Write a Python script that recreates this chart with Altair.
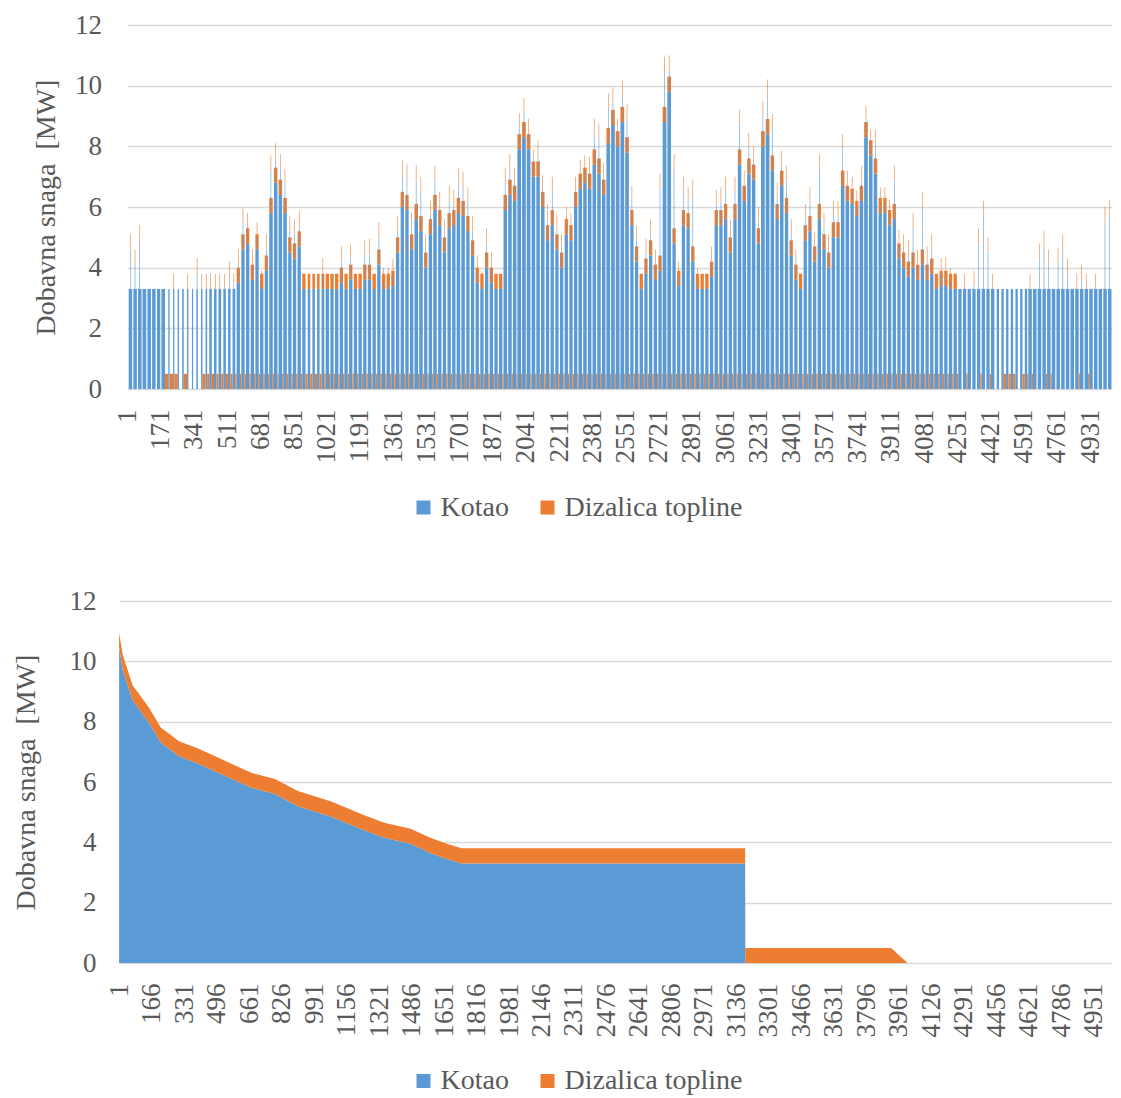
import altair as alt
import pandas as pd

FONT = "Liberation Serif"
SIVA = "#595959"
PLAVA = "#5B9BD5"
NARANCASTA = "#ED7D31"
SERIJE = ["Kotao", "Dizalica topline"]

# ---------------- Gornji graf: po danima (210 dana x 24 h) ----------------
# vršna ukupna snaga u danu [MW]
vrh_snaga = [
    5.1, 4.6, 5.4, 3.3, 3.3, 3.3, 3.3, 3.3, 3.3, 3.8,
    3.3, 3.3, 3.8, 3.3, 4.3, 3.8, 3.8, 3.8, 3.8, 3.8,
    3.8, 4.2, 3.8, 4.6, 6.0, 5.8, 4.6, 5.5, 3.9, 5.1,
    7.7, 8.1, 7.75, 7.25, 5.7, 5.6, 5.9, 3.8, 3.8, 3.8,
    3.8, 4.3, 3.8, 3.8, 3.8, 4.7, 3.8, 4.8, 3.8, 3.8,
    4.9, 4.95, 3.8, 5.5, 4.0, 4.0, 4.3, 5.7, 7.55, 7.4,
    5.8, 7.4, 7.0, 5.1, 6.2, 7.35, 6.5, 5.6, 6.7, 6.55,
    7.3, 7.15, 6.65, 5.7, 4.4, 3.9, 5.3, 4.5, 3.8, 3.8,
    7.3, 7.75, 7.3, 9.1, 9.6, 8.9, 7.9, 8.2, 7.05, 6.1,
    7.0, 5.75, 5.1, 6.0, 5.8, 7.0, 7.55, 7.7, 7.65, 8.9,
    8.75, 7.45, 9.75, 9.95, 8.9, 10.15, 9.4, 6.7, 5.4, 3.8,
    4.95, 5.6, 4.6, 7.1, 10.95, 11.0, 7.75, 4.2, 7.0, 6.65,
    6.9, 4.0, 3.8, 3.8, 4.7, 6.55, 6.65, 7.0, 5.6, 7.0,
    9.2, 7.2, 8.45, 8.0, 6.0, 9.5, 10.2, 9.05, 6.8, 7.85,
    7.35, 5.6, 4.6, 3.8, 6.1, 6.65, 5.2, 7.75, 5.8, 5.1,
    6.2, 6.2, 8.4, 7.2, 7.0, 6.55, 7.35, 9.35, 8.55, 8.55,
    6.65, 6.65, 6.25, 7.35, 5.25, 5.1, 4.9, 5.8, 4.6, 6.5,
    4.7, 5.1, 3.8, 4.3, 4.35, 4.0, 3.8, 3.3, 3.8, 3.3,
    3.9, 5.3, 6.2, 5.0, 3.8, 3.3, 3.3, 3.3, 3.3, 3.3,
    3.3, 3.3, 3.8, 3.3, 4.8, 5.2, 4.6, 3.3, 4.65, 5.1,
    4.3, 3.3, 3.8, 4.1, 3.8, 3.3, 3.8, 3.3, 6.0, 6.25,
]
# tipična snaga kotla u satima rada [MW]
kotao_dan = [
    3.3, 3.3, 3.3, 3.3, 3.3, 3.3, 3.3, 3.3, 3.3, 3.3,
    3.3, 3.3, 3.3, 3.3, 3.3, 3.3, 3.3, 3.3, 3.3, 3.3,
    3.3, 3.3, 3.3, 3.5, 4.6, 4.8, 3.6, 4.6, 3.3, 3.9,
    5.8, 6.8, 6.4, 5.8, 4.5, 4.3, 4.7, 3.3, 3.3, 3.3,
    3.3, 3.3, 3.3, 3.3, 3.3, 3.5, 3.3, 3.6, 3.3, 3.3,
    3.6, 3.6, 3.3, 4.1, 3.3, 3.3, 3.4, 4.5, 6.0, 5.9,
    4.6, 5.6, 5.2, 4.0, 5.1, 5.9, 5.4, 4.5, 5.3, 5.4,
    5.8, 5.7, 5.2, 4.4, 3.5, 3.3, 4.0, 3.5, 3.3, 3.3,
    5.9, 6.4, 6.2, 7.9, 8.3, 7.9, 7.0, 7.0, 6.0, 4.9,
    5.4, 4.6, 4.0, 5.1, 4.9, 6.0, 6.6, 6.8, 6.6, 7.4,
    7.1, 6.4, 8.1, 8.7, 8.0, 8.8, 7.8, 5.4, 4.2, 3.3,
    3.8, 4.4, 3.6, 3.9, 8.8, 9.8, 4.8, 3.4, 5.4, 5.3,
    4.2, 3.3, 3.3, 3.3, 3.7, 5.4, 5.4, 5.6, 4.5, 5.6,
    7.4, 6.2, 7.1, 6.9, 4.8, 8.0, 8.4, 7.2, 5.6, 6.7,
    5.8, 4.4, 3.6, 3.3, 4.9, 5.2, 4.2, 5.6, 4.6, 4.0,
    5.0, 5.0, 6.7, 6.2, 6.1, 5.7, 6.2, 8.3, 7.7, 7.1,
    5.8, 5.8, 5.4, 5.6, 4.3, 4.0, 3.7, 4.0, 3.6, 4.1,
    3.6, 3.8, 3.3, 3.4, 3.4, 3.3, 3.3, 3.3, 3.3, 3.3,
    3.3, 3.3, 3.3, 3.3, 3.3, 3.3, 3.3, 3.3, 3.3, 3.3,
    3.3, 3.3, 3.3, 3.3, 3.3, 3.3, 3.3, 3.3, 3.3, 3.3,
    3.3, 3.3, 3.3, 3.3, 3.3, 3.3, 3.3, 3.3, 3.3, 3.3,
]
# broj sati rada kotla u danu
sati_rada = [
    18, 18, 18, 19, 18, 18, 17, 18, 7, 6,
    7, 8, 7, 6, 7, 7, 8, 13, 13, 14,
    13, 13, 14, 17, 17, 17, 17, 17, 17, 17,
    18, 18, 18, 18, 17, 17, 17, 17, 13, 13,
    13, 14, 17, 17, 17, 17, 17, 17, 17, 17,
    17, 17, 17, 17, 17, 17, 17, 17, 17, 17,
    17, 18, 18, 17, 17, 18, 17, 17, 17, 17,
    18, 18, 17, 17, 17, 17, 17, 17, 17, 17,
    18, 18, 18, 19, 19, 19, 18, 18, 18, 17,
    17, 17, 17, 17, 17, 17, 18, 18, 18, 18,
    18, 18, 19, 19, 19, 19, 19, 17, 17, 17,
    17, 17, 17, 17, 19, 19, 17, 17, 17, 17,
    17, 17, 17, 17, 17, 17, 17, 17, 17, 17,
    18, 18, 18, 18, 17, 19, 19, 18, 17, 18,
    17, 17, 17, 17, 17, 17, 17, 17, 17, 17,
    17, 17, 18, 18, 17, 17, 18, 19, 18, 18,
    17, 17, 17, 17, 17, 17, 17, 17, 17, 17,
    17, 17, 17, 17, 17, 17, 17, 17, 17, 17,
    17, 17, 17, 17, 17, 12, 12, 12, 12, 12,
    12, 12, 18, 18, 18, 18, 18, 18, 18, 18,
    18, 18, 18, 18, 18, 18, 18, 18, 18, 18,
]
# dizalica topline uz kotao [MW]
dizalica_dan = [
    0, 0, 0, 0, 0, 0, 0, 0, 0, 0,
    0, 0, 0, 0, 0, 0, 0, 0, 0, 0,
    0, 0, 0, 0.5, 0.5, 0.5, 0.5, 0.5, 0.5, 0.5,
    0.5, 0.5, 0.5, 0.5, 0.5, 0.5, 0.5, 0.5, 0.5, 0.5,
    0.5, 0.5, 0.5, 0.5, 0.5, 0.5, 0.5, 0.5, 0.5, 0.5,
    0.5, 0.5, 0.5, 0.5, 0.5, 0.5, 0.5, 0.5, 0.5, 0.5,
    0.5, 0.5, 0.5, 0.5, 0.5, 0.5, 0.5, 0.5, 0.5, 0.5,
    0.5, 0.5, 0.5, 0.5, 0.5, 0.5, 0.5, 0.5, 0.5, 0.5,
    0.5, 0.5, 0.5, 0.5, 0.5, 0.5, 0.5, 0.5, 0.5, 0.5,
    0.5, 0.5, 0.5, 0.5, 0.5, 0.5, 0.5, 0.5, 0.5, 0.5,
    0.5, 0.5, 0.5, 0.5, 0.5, 0.5, 0.5, 0.5, 0.5, 0.5,
    0.5, 0.5, 0.5, 0.5, 0.5, 0.5, 0.5, 0.5, 0.5, 0.5,
    0.5, 0.5, 0.5, 0.5, 0.5, 0.5, 0.5, 0.5, 0.5, 0.5,
    0.5, 0.5, 0.5, 0.5, 0.5, 0.5, 0.5, 0.5, 0.5, 0.5,
    0.5, 0.5, 0.5, 0.5, 0.5, 0.5, 0.5, 0.5, 0.5, 0.5,
    0.5, 0.5, 0.5, 0.5, 0.5, 0.5, 0.5, 0.5, 0.5, 0.5,
    0.5, 0.5, 0.5, 0.5, 0.5, 0.5, 0.5, 0.5, 0.5, 0.5,
    0.5, 0.5, 0.5, 0.5, 0.5, 0.5, 0.5, 0, 0, 0,
    0, 0, 0, 0, 0, 0, 0, 0, 0, 0,
    0, 0, 0, 0, 0, 0, 0, 0, 0, 0,
    0, 0, 0, 0, 0, 0, 0, 0, 0, 0,
]
# dizalica topline kad kotao ne radi [MW]
dizalica_noc = [
    0, 0, 0, 0, 0, 0, 0, 0, 0.5, 0.5,
    0.5, 0, 0.5, 0, 0, 0, 0.5, 0.5, 0.5, 0.5,
    0.5, 0.5, 0.5, 0.5, 0.5, 0.5, 0.5, 0.5, 0.5, 0.5,
    0.5, 0.5, 0.5, 0.5, 0.5, 0.5, 0.5, 0.5, 0.5, 0.5,
    0.5, 0.5, 0.5, 0.5, 0.5, 0.5, 0.5, 0.5, 0.5, 0.5,
    0.5, 0.5, 0.5, 0.5, 0.5, 0.5, 0.5, 0.5, 0.5, 0.5,
    0.5, 0.5, 0.5, 0.5, 0.5, 0.5, 0.5, 0.5, 0.5, 0.5,
    0.5, 0.5, 0.5, 0.5, 0.5, 0.5, 0.5, 0.5, 0.5, 0.5,
    0.5, 0.5, 0.5, 0.5, 0.5, 0.5, 0.5, 0.5, 0.5, 0.5,
    0.5, 0.5, 0.5, 0.5, 0.5, 0.5, 0.5, 0.5, 0.5, 0.5,
    0.5, 0.5, 0.5, 0.5, 0.5, 0.5, 0.5, 0.5, 0.5, 0.5,
    0.5, 0.5, 0.5, 0.5, 0.5, 0.5, 0.5, 0.5, 0.5, 0.5,
    0.5, 0.5, 0.5, 0.5, 0.5, 0.5, 0.5, 0.5, 0.5, 0.5,
    0.5, 0.5, 0.5, 0.5, 0.5, 0.5, 0.5, 0.5, 0.5, 0.5,
    0.5, 0.5, 0.5, 0.5, 0.5, 0.5, 0.5, 0.5, 0.5, 0.5,
    0.5, 0.5, 0.5, 0.5, 0.5, 0.5, 0.5, 0.5, 0.5, 0.5,
    0.5, 0.5, 0.5, 0.5, 0.5, 0.5, 0.5, 0.5, 0.5, 0.5,
    0.5, 0.5, 0.5, 0.5, 0.5, 0.5, 0.5, 0.5, 0, 0.5,
    0, 0, 0.5, 0, 0.5, 0, 0, 0.5, 0.5, 0.5,
    0, 0.5, 0.5, 0.5, 0, 0, 0.5, 0.5, 0, 0,
    0, 0, 0, 0.5, 0, 0.5, 0, 0, 0, 0,
]
x_oznake_gore = [1, 171, 341, 511, 681, 851, 1021, 1191, 1361, 1531,
                 1701, 1871, 2041, 2211, 2381, 2551, 2721, 2891, 3061, 3231,
                 3401, 3571, 3741, 3911, 4081, 4251, 4421, 4591, 4761, 4931]

# ---------------- Donji graf: krivulja trajanja ----------------
sati_sort = [1, 20, 70, 104, 154, 213, 255, 305, 406, 574,
             675, 792, 909, 1078, 1246, 1347, 1481, 1581, 1665, 1741,
             3180, 3181, 3920, 3935, 3950, 4000, 4002, 5040]
kotao_sort = [10.45, 9.7, 8.7, 8.4, 7.95, 7.3, 7.1, 6.85, 6.6, 6.1,
              5.8, 5.6, 5.2, 4.85, 4.4, 4.15, 3.95, 3.65, 3.45, 3.3,
              3.3, 0, 0, 0, 0, 0, 0, 0]
dizalica_sort = [0.5, 0.5, 0.5, 0.5, 0.5, 0.5, 0.5, 0.5, 0.5, 0.5,
                 0.5, 0.5, 0.5, 0.5, 0.5, 0.5, 0.5, 0.5, 0.5, 0.5,
                 0.5, 0.5, 0.5, 0.42, 0.32, 0.03, 0, 0]
x_oznake_dolje = [1, 166, 331, 496, 661, 826, 991, 1156, 1321, 1486,
                  1651, 1816, 1981, 2146, 2311, 2476, 2641, 2806, 2971, 3136,
                  3301, 3466, 3631, 3796, 3961, 4126, 4291, 4456, 4621, 4786, 4951]
y_vrijednosti = [0, 2, 4, 6, 8, 10, 12]
Y_NASLOV = "Dobavna snaga\u00a0 [MW]"

# ---------------- tablica pravokutnika za gornji graf ----------------
VRH_SATI = 3
osnova, vrhovi = [], []
for d in range(len(vrh_snaga)):
    start = d * 24 + 0.5
    rad = sati_rada[d]
    iskljuceno = 24 - rad
    if dizalica_noc[d] > 0:
        osnova.append(dict(x0=start, x1=start + iskljuceno, y0=0.0,
                           y1=dizalica_noc[d], serija="Dizalica topline"))
    s = start + iskljuceno
    e = start + 24
    k, dz, v = kotao_dan[d], dizalica_dan[d], vrh_snaga[d]
    osnova.append(dict(x0=s, x1=e, y0=0.0, y1=k, serija="Kotao"))
    if dz > 0:
        osnova.append(dict(x0=s, x1=e, y0=k, y1=k + dz, serija="Dizalica topline"))
    if v > k + dz + 1e-6:
        a = s + (rad - VRH_SATI) // 2
        kv = max(k, v - 0.5)
        vrhovi.append(dict(x0=a, x1=a + VRH_SATI, y0=0.0, y1=kv, serija="Kotao"))
        vrhovi.append(dict(x0=a, x1=a + VRH_SATI, y0=kv, y1=v, serija="Dizalica topline"))
df_gore = pd.DataFrame(osnova + vrhovi)

red_dolje = []
for h, kb, db in zip(sati_sort, kotao_sort, dizalica_sort):
    red_dolje.append(dict(sat=h, y0=0.0, y1=kb, serija="Kotao"))
    red_dolje.append(dict(sat=h, y0=kb, y1=kb + db, serija="Dizalica topline"))
df_dolje = pd.DataFrame(red_dolje)


def y_os(title_pad, label_pad):
    return alt.Axis(values=y_vrijednosti, format="d", title=Y_NASLOV,
                    titleFont=FONT, titleFontSize=28, titleFontWeight="normal",
                    titleColor=SIVA, titlePadding=title_pad,
                    labelFont=FONT, labelFontSize=27, labelColor=SIVA,
                    labelPadding=label_pad, ticks=False, domain=False,
                    grid=True, gridColor="#D9D9D9", gridWidth=1.3)


def x_os(vals):
    return alt.Axis(values=vals, format="d", title=None, labelAngle=270,
                    labelFont=FONT, labelFontSize=27, labelColor=SIVA,
                    labelPadding=20, ticks=False, domain=False, grid=False,
                    labelOverlap=False, labelFlush=False)


def legenda(lx, ly):
    return alt.Legend(orient="none", legendX=lx, legendY=ly, direction="horizontal",
                      title=None, labelFont=FONT, labelFontSize=28, labelColor=SIVA,
                      labelLimit=500, symbolType="square", symbolSize=196,
                      symbolStrokeWidth=0, labelOffset=3, columnPadding=24,
                      padding=0, columns=2)


boja_skala = alt.Scale(domain=SERIJE, range=[PLAVA, NARANCASTA])

# obje ploče počinju na istoj lijevoj crti; gornji stupci kreću 8.5 px udesno
stupci = alt.Chart(df_gore).mark_rect().encode(
    x=alt.X("x0:Q", scale=alt.Scale(domain=[0.5, 5040.5], range=[8.5, 992.5],
                                    nice=False, zero=False),
            axis=x_os(x_oznake_gore)),
    x2="x1:Q",
    y=alt.Y("y1:Q", stack=False, scale=alt.Scale(domain=[0, 12], nice=False),
            axis=y_os(14, 17.5)),
    y2="y0:Q",
    color=alt.Color("serija:N", scale=boja_skala, sort=SERIJE, legend=legenda(290.5, 468.5)),
)
granica_gore = alt.Chart(pd.DataFrame({"k": [0]})).mark_rule(opacity=0, strokeWidth=1).encode(
    x=alt.value(-111), y=alt.value(-17), y2=alt.value(535))
gore = alt.layer(stupci, granica_gore).properties(width=992.5, height=364)

povrsina = alt.Chart(df_dolje).mark_area(interpolate="linear").encode(
    x=alt.X("sat:Q", scale=alt.Scale(domain=[0.5, 5040.5], nice=False, zero=False),
            axis=x_os(x_oznake_dolje)),
    y=alt.Y("y1:Q", stack=False, scale=alt.Scale(domain=[0, 12], nice=False),
            axis=y_os(28.5, 23)),
    y2="y0:Q",
    color=alt.Color("serija:N", scale=boja_skala, sort=SERIJE, legend=legenda(290.5, 466)),
)
granica_dolje = alt.Chart(pd.DataFrame({"k": [0]})).mark_rule(opacity=0, strokeWidth=1).encode(
    x=alt.value(-111), y=alt.value(-30.5), y2=alt.value(0))
dolje = alt.layer(povrsina, granica_dolje).properties(width=992.5, height=362)

chart = alt.vconcat(gore, dolje, spacing=10).resolve_scale(
    color="independent").resolve_legend(color="independent").properties(
    padding=0).configure_view(strokeWidth=0)

chart.save("out.html", embed_options={"renderer": "svg", "actions": False})
